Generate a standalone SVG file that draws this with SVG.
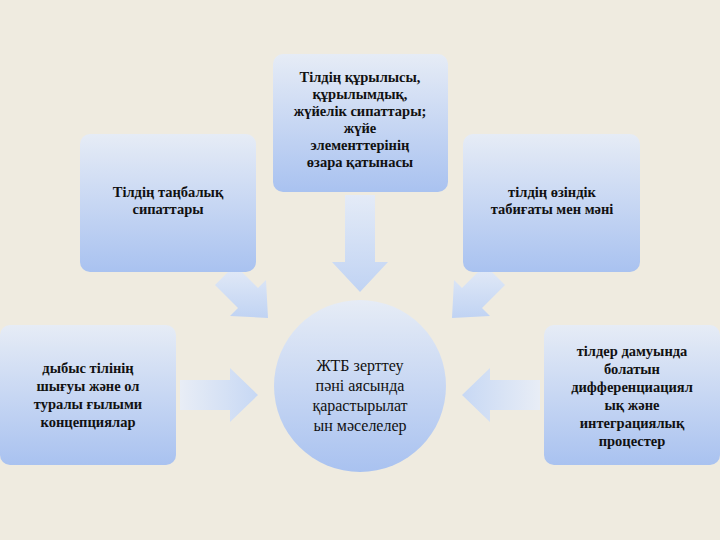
<svg xmlns="http://www.w3.org/2000/svg" width="720" height="540" viewBox="0 0 720 540">
<defs>
<linearGradient id="g" x1="0" y1="0" x2="0" y2="1"><stop offset="0" stop-color="#e6ecf6"/><stop offset="1" stop-color="#a9c2f0"/></linearGradient>
<linearGradient id="ga" x1="0" y1="0" x2="0" y2="1"><stop offset="0" stop-color="#e4ebf7"/><stop offset="1" stop-color="#c0d3f3"/></linearGradient>
<linearGradient id="gh" x1="0" y1="0" x2="1" y2="0"><stop offset="0" stop-color="#e8edf6"/><stop offset="1" stop-color="#c7d8f4"/></linearGradient>
<linearGradient id="gh2" x1="1" y1="0" x2="0" y2="0"><stop offset="0" stop-color="#e8edf6"/><stop offset="1" stop-color="#c7d8f4"/></linearGradient>
</defs>
<style>
.b{fill:url(#g)}
text{font-family:"Liberation Serif",serif;font-size:14.5px;fill:#111;text-anchor:middle;font-weight:bold}
</style>
<rect width="720" height="540" fill="#efebe0"/>
<g id="connectors">
<polygon points="345,195 375,195 375,262 388,262 360,292 332,262 345,262" fill="url(#ga)"/>
<polygon points="235,265 258,288 266,280 268,318 230,316 238,308 215,285" fill="url(#ga)"/>
<polygon points="485,265 462,288 454,280 452,318 490,316 482,308 505,285" fill="url(#ga)"/>
<polygon points="180,380 230,380 230,368 258,395 230,422 230,410 180,410" fill="url(#gh)"/>
<polygon points="540,380 490,380 490,368 462,395 490,422 490,410 540,410" fill="url(#gh2)"/>
</g>
<g id="n1"><rect class="b" x="273" y="54" width="175" height="138" rx="10"/>
<text x="360" y="82">Тілдің құрылысы,</text><text x="360" y="99">құрылымдық,</text><text x="360" y="116">жүйелік сипаттары;</text><text x="360" y="133">жүйе</text><text x="360" y="150">элементтерінің</text><text x="360" y="167">өзара қатынасы</text></g>
<g id="n2"><rect class="b" x="80" y="134" width="176" height="138" rx="10"/>
<text x="168" y="197">Тілдің таңбалық</text><text x="168" y="214">сипаттары</text></g>
<g id="n3"><rect class="b" x="463" y="134" width="177" height="138" rx="10"/>
<text x="552" y="197">тілдің өзіндік</text><text x="552" y="214">табиғаты мен мәні</text></g>
<g id="n4"><rect class="b" x="0" y="325" width="176" height="140" rx="10"/>
<text x="88" y="373">дыбыс тілінің</text><text x="88" y="391">шығуы және ол</text><text x="88" y="409">туралы ғылыми</text><text x="88" y="427">концепциялар</text></g>
<g id="n5"><rect class="b" x="544" y="325" width="176" height="140" rx="10"/>
<text x="632" y="356">тілдер дамуында</text><text x="632" y="374">болатын</text><text x="632" y="392">дифференциациял</text><text x="632" y="410">ық және</text><text x="632" y="428">интеграциялық</text><text x="632" y="446">процестер</text></g>
<g id="c"><ellipse class="b" cx="360" cy="386" rx="86" ry="86"/>
<text x="360" y="371" style="font-size:16px;font-weight:normal">ЖТБ зерттеу</text><text x="360" y="391" style="font-size:16px;font-weight:normal">пәні аясында</text><text x="360" y="411" style="font-size:16px;font-weight:normal">қарастырылат</text><text x="360" y="431" style="font-size:16px;font-weight:normal">ын мәселелер</text></g>
</svg>
